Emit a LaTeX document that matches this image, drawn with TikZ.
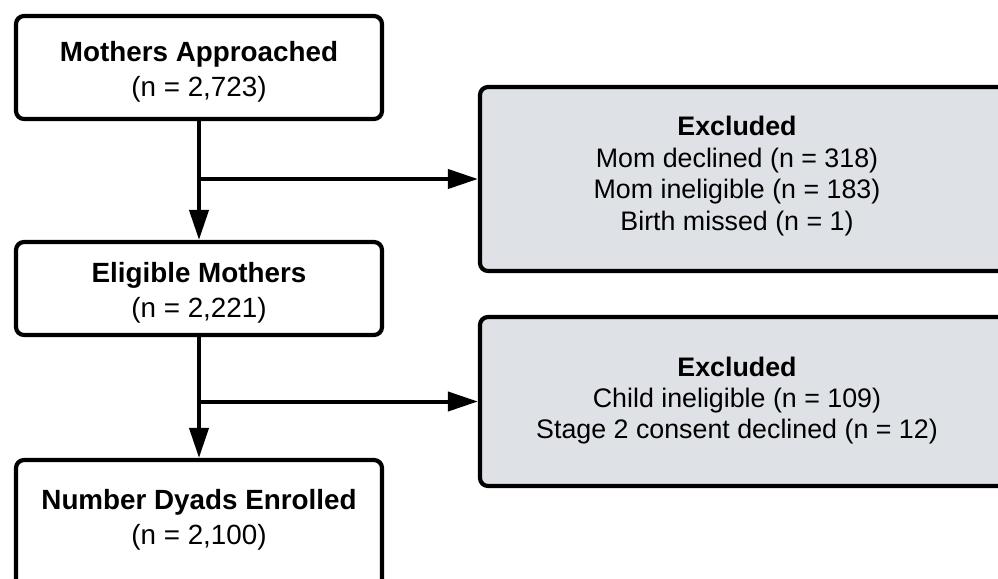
\documentclass[tikz,border=0pt]{standalone}
\usepackage{fontspec}
\setmainfont{Liberation Sans}
\usetikzlibrary{arrows.meta}
\definecolor{exfill}{HTML}{DEE1E6}
\begin{document}
\begin{tikzpicture}[x=0.5pt,y=-0.5pt,
  box/.style={draw=black, line width=2.1pt, rounded corners=4pt, inner sep=0pt},
  whitebox/.style={box, fill=white, minimum width=183pt},
  greybox/.style={box, fill=exfill, minimum width=270pt},
  lefttext/.style={align=center, font=\fontsize{13.9pt}{17.5pt}\selectfont, inner sep=0pt},
  righttext/.style={align=center, font=\fontsize{13.4pt}{15.7pt}\selectfont, inner sep=0pt},
  flow/.style={line width=2pt, -{Triangle[length=15pt,width=9.5pt]}}
]
\useasboundingbox (0,0) rectangle (998,579);
\clip (0,0) rectangle (998,579);
\fill[white] (0,0) rectangle (998,579);
% boxes
\node[whitebox, minimum height=51.5pt] (b1) at (199,67.5) {};
\node[whitebox, minimum height=46.5pt] (b2) at (199,288.5) {};
\node[whitebox, minimum height=65pt] (b3) at (199,525) {};
\node[greybox, minimum height=92pt] (r1) at (750,179) {};
\node[greybox, minimum height=84.5pt] (r2) at (750,401.5) {};
% texts
\node[lefttext] (t1) at (199,72) {\textbf{Mothers Approached}\\(n = 2,723)};
\node[lefttext] (t2) at (199,293) {\textbf{Eligible Mothers}\\(n = 2,221)};
\node[lefttext] (t3) at (199,520) {\textbf{Number Dyads Enrolled}\\(n = 2,100)};
\node[righttext] (t4) at (737,176) {\textbf{Excluded}\\Mom declined (n = 318)\\Mom ineligible (n = 183)\\Birth missed (n = 1)};
\node[righttext] (t5) at (737,400.5) {\textbf{Excluded}\\Child ineligible (n = 109)\\Stage 2 consent declined (n = 12)};
% connectors
\draw[flow] (b1) -- (b2);
\draw[flow] (b2) -- (b3);
\draw[flow] (r1.west -| b1.south) -- (r1.west);
\draw[flow] (r2.west -| b2.south) -- (r2.west);
\end{tikzpicture}
\end{document}
